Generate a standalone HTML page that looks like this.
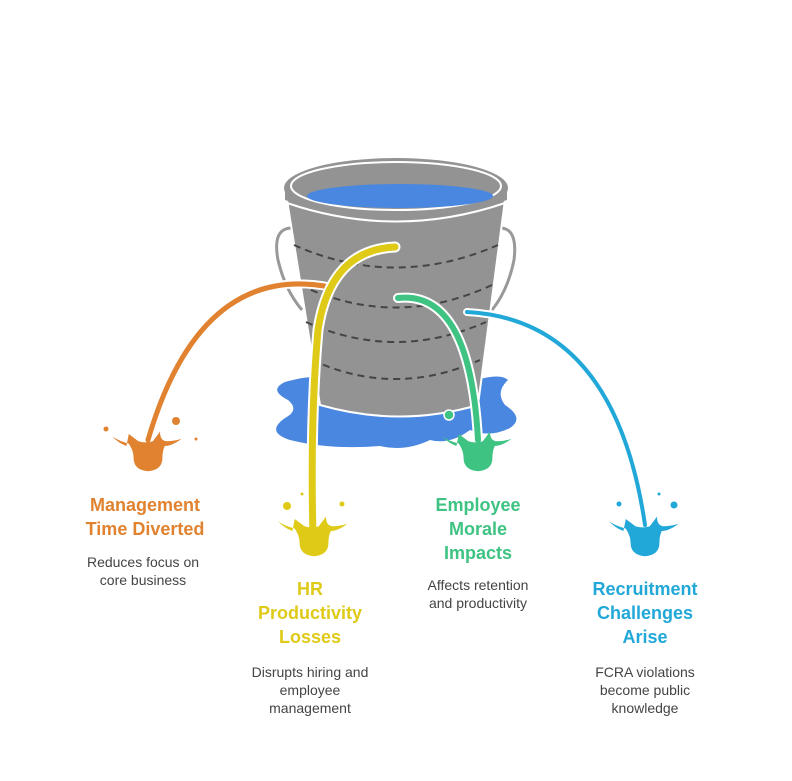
<!DOCTYPE html>
<html><head><style>
body{margin:0;background:#fff;}
svg{display:block;}
text{font-family:"Liberation Sans",sans-serif;text-anchor:middle;}
.t{font-size:18px;font-weight:bold;}
.d{font-size:14px;fill:#444;}
</style></head><body>
<svg width="792" height="781" viewBox="0 0 792 781">
<defs>
<path id="sp" d="M-28,-26 Q-20,-20 -14,-20 Q-12,-16 -12,-10 Q-12,0 0,1 Q12,0 12,-10 Q12,-16 16,-22 Q24,-24 30,-28 Q24,-22 18,-20 L16,-30 L8,-24 Q2,-22 -4,-24 L-10,-32 Q-10,-24 -16,-24 Q-22,-24 -28,-26 Z"/>
</defs>
<!-- puddle -->
<path d="M285,382 Q320,372 330,382 L470,382 Q500,372 508,380 Q495,392 505,405 Q525,418 510,428 Q490,438 470,430 Q450,445 430,440 Q405,452 380,446 Q330,450 290,440 Q265,432 285,418 Q300,410 288,400 Q268,390 285,382 Z" fill="#4a87e0"/>
<!-- handle -->
<path d="M292,228 Q272,228 278,260 Q285,290 302,310" fill="none" stroke="#999" stroke-width="3"/>
<path d="M500,228 Q518,228 514,260 Q508,290 492,310" fill="none" stroke="#999" stroke-width="3"/>
<!-- body -->
<path d="M287,200 L505,200 L478,405 Q400,428 320,405 Z" fill="#939393" stroke="#fff" stroke-width="2"/>
<g fill="none" stroke="#444" stroke-width="2" stroke-dasharray="7,5">
<path d="M294,245 Q395,290 498,245"/>
<path d="M300,285 Q395,330 492,285"/>
<path d="M306,322 Q395,362 486,322"/>
<path d="M312,360 Q395,398 480,360"/>
</g>
<!-- rim -->
<ellipse cx="396" cy="188" rx="112" ry="30" fill="#939393"/>
<path d="M285,188 L285,200 Q396,240 507,200 L507,188 Z" fill="#939393"/>
<path d="M287,203 Q396,240 505,203" fill="none" stroke="#fff" stroke-width="2"/>
<ellipse cx="396" cy="186" rx="105" ry="24" fill="none" stroke="#fff" stroke-width="2"/>
<ellipse cx="400" cy="196" rx="93" ry="12" fill="#4a87e0"/>
<!-- streams -->
<g fill="none" stroke-linecap="round">
<path d="M330,287 Q200,262 148,440" stroke="#fff" stroke-width="9"/>
<path d="M330,287 Q200,262 148,440" stroke="#e0822f" stroke-width="5"/>
<path d="M395,247 Q330,250 318,330 Q310,420 313,535" stroke="#fff" stroke-width="11"/>
<path d="M395,247 Q330,250 318,330 Q310,420 313,535" stroke="#dfca17" stroke-width="7"/>
<path d="M398,298 Q470,290 478,440" stroke="#fff" stroke-width="10"/>
<path d="M398,298 Q470,290 478,440" stroke="#3ec383" stroke-width="6"/>
<path d="M467,312 Q615,320 645,525" stroke="#fff" stroke-width="8"/>
<path d="M467,312 Q615,320 645,525" stroke="#22a8d8" stroke-width="4"/>
</g>
<use href="#sp" transform="translate(148,470) scale(-1.2,1.2)" fill="#e0822f"/>
<use href="#sp" transform="translate(314,555) scale(-1.2,1.2)" fill="#dfca17"/>
<use href="#sp" transform="translate(478,470) scale(-1.2,1.2)" fill="#3ec383"/>
<use href="#sp" transform="translate(645,555) scale(-1.2,1.2)" fill="#22a8d8"/>
<circle cx="176" cy="421" r="4" fill="#e0822f"/><circle cx="106" cy="429" r="2.5" fill="#e0822f"/><circle cx="196" cy="439" r="1.5" fill="#e0822f"/>
<circle cx="287" cy="506" r="4" fill="#dfca17"/><circle cx="342" cy="504" r="2.5" fill="#dfca17"/><circle cx="302" cy="494" r="1.5" fill="#dfca17"/>
<circle cx="449" cy="415" r="5" fill="#3ec383" stroke="#fff" stroke-width="1.5"/>
<circle cx="674" cy="505" r="3.5" fill="#22a8d8"/><circle cx="619" cy="504" r="2.5" fill="#22a8d8"/><circle cx="659" cy="494" r="1.5" fill="#22a8d8"/>
<!-- text -->
<text class="t" fill="#e0822f" x="145" y="511">Management</text>
<text class="t" fill="#e0822f" x="145" y="535">Time Diverted</text>
<text class="d" x="143" y="567">Reduces focus on</text>
<text class="d" x="143" y="585">core business</text>
<text class="t" fill="#dfca17" x="310" y="595">HR</text>
<text class="t" fill="#dfca17" x="310" y="619">Productivity</text>
<text class="t" fill="#dfca17" x="310" y="643">Losses</text>
<text class="d" x="310" y="677">Disrupts hiring and</text>
<text class="d" x="310" y="695">employee</text>
<text class="d" x="310" y="713">management</text>
<text class="t" fill="#3ec383" x="478" y="511">Employee</text>
<text class="t" fill="#3ec383" x="478" y="535">Morale</text>
<text class="t" fill="#3ec383" x="478" y="559">Impacts</text>
<text class="d" x="478" y="590">Affects retention</text>
<text class="d" x="478" y="608">and productivity</text>
<text class="t" fill="#22a8d8" x="645" y="595">Recruitment</text>
<text class="t" fill="#22a8d8" x="645" y="619">Challenges</text>
<text class="t" fill="#22a8d8" x="645" y="643">Arise</text>
<text class="d" x="645" y="677">FCRA violations</text>
<text class="d" x="645" y="695">become public</text>
<text class="d" x="645" y="713">knowledge</text>
</svg>
</body></html>
